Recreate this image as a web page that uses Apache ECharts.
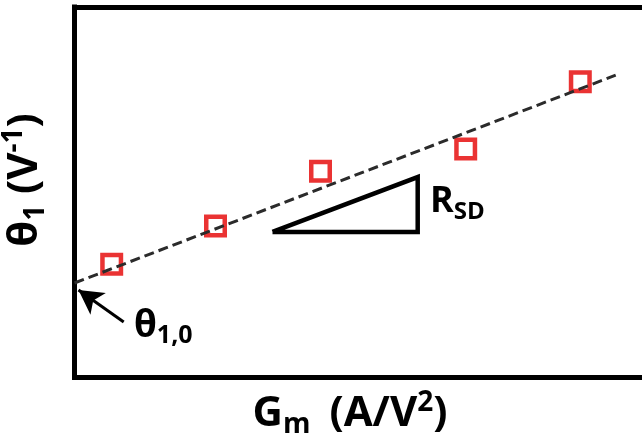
<!DOCTYPE html>
<html>
<head>
<meta charset="utf-8">
<script src="https://cdn.jsdelivr.net/npm/echarts@6/dist/echarts.min.js"></script>
<style>html,body{margin:0;padding:0;background:#fff;}#c{width:642px;height:448px;}</style>
</head>
<body>
<div id="c"></div>
<script>
// Data (arbitrary units, schematic chart)
const pointsX = [0.62, 2.35, 4.10, 6.52, 8.43];
const pointsY = [3.06, 4.09, 5.57, 6.17, 7.98];
const fitX = [0, 9.02];
const fitY = [2.55, 8.16];
const triangleX = [3.30, 5.72, 5.72, 3.30];
const triangleY = [3.93, 5.41, 3.93, 3.93];
const arrowFrom = [0.82, 1.50];
const arrowTo = [0.067, 2.36];

const FONT = '"Open Sans", "Noto Sans", sans-serif';
const chart = echarts.init(document.getElementById('c'), null, {renderer: 'canvas'});

function zip(a, b) { return a.map((v, i) => [v, b[i]]); }

const hiddenAxisBits = {axisTick: {show: false}, axisLabel: {show: false}, splitLine: {show: false}};
const frameLine = {show: true, lineStyle: {color: '#000', width: 5, cap: 'square'}};

chart.setOption({
  animation: false,
  grid: {left: 74.5, top: 7, width: 600, height: 370.5, outerBoundsMode: 'none', containLabel: false, show: false},
  xAxis: [
    Object.assign({type: 'value', min: 0, max: 10, position: 'bottom', axisLine: frameLine}, hiddenAxisBits),
    Object.assign({type: 'value', min: 0, max: 10, position: 'top', axisLine: frameLine}, hiddenAxisBits)
  ],
  yAxis: Object.assign({type: 'value', min: 0, max: 10, position: 'left', axisLine: frameLine}, hiddenAxisBits),
  series: [
    {
      type: 'scatter', data: zip(pointsX, pointsY), symbol: 'rect', symbolSize: 18.5, z: 3,
      itemStyle: {color: '#fff', borderColor: '#e50000', borderWidth: 4.5}
    },
    {
      type: 'line', data: zip(fitX, fitY), showSymbol: false, symbol: 'none', z: 4,
      lineStyle: {color: '#2b2b2b', width: 3, type: [10, 5]}
    },
    {
      type: 'line', data: zip(triangleX, triangleY), showSymbol: false, symbol: 'none', z: 2,
      lineStyle: {color: '#000', width: 4.5, join: 'miter', miterLimit: 20}
    },
    {
      type: 'line', data: [], symbol: 'none',
      markLine: {
        silent: true, symbol: ['none', 'arrow'], symbolSize: [20, 24],
        lineStyle: {color: '#000', width: 3, type: 'solid'},
        label: {show: false},
        data: [[{coord: arrowFrom}, {coord: arrowTo}]]
      }
    }
  ],
  graphic: [
    {
      type: 'text', x: 134, y: 326,
      style: {
        text: '{a|θ}{s|1,0}', align: 'left', verticalAlign: 'middle',
        rich: {
          a: {font: 'bold 37px ' + FONT, fill: '#000', lineHeight: 44},
          s: {font: 'bold 25px ' + FONT, fill: '#000', verticalAlign: 'bottom', lineHeight: 10}
        }
      }
    },
    {
      type: 'text', x: 430, y: 202,
      style: {
        text: '{a|R}{s|SD}', align: 'left', verticalAlign: 'middle',
        rich: {
          a: {font: 'bold 36px ' + FONT, fill: '#000', lineHeight: 44},
          s: {font: 'bold 24px ' + FONT, fill: '#000', verticalAlign: 'bottom', lineHeight: 12}
        }
      }
    },
    {
      type: 'text', x: 350, y: 414,
      style: {
        text: '{a|G}{s|m}{sp| }{a|(A/V}{p|2}{a|)}', align: 'center', verticalAlign: 'middle',
        rich: {
          a: {font: 'bold 42px ' + FONT, fill: '#000', lineHeight: 50},
          sp: {font: 'bold 42px ' + FONT, fill: '#000', lineHeight: 50, width: 19},
          s: {font: 'bold 28px ' + FONT, fill: '#000', verticalAlign: 'bottom', lineHeight: 12},
          p: {font: 'bold 28px ' + FONT, fill: '#000', verticalAlign: 'top', lineHeight: 28}
        }
      }
    },
    {
      type: 'text', x: 25, y: 180, rotation: Math.PI / 2,
      style: {
        text: '{a|θ}{s|1}{a| (V}{p|-1}{a|)}', align: 'center', verticalAlign: 'middle',
        rich: {
          a: {font: 'bold 42px ' + FONT, fill: '#000', lineHeight: 50},
          s: {font: 'bold 28px ' + FONT, fill: '#000', verticalAlign: 'bottom', lineHeight: 12},
          p: {font: 'bold 28px ' + FONT, fill: '#000', verticalAlign: 'top', lineHeight: 28}
        }
      }
    }
  ]
});
</script>
</body>
</html>
